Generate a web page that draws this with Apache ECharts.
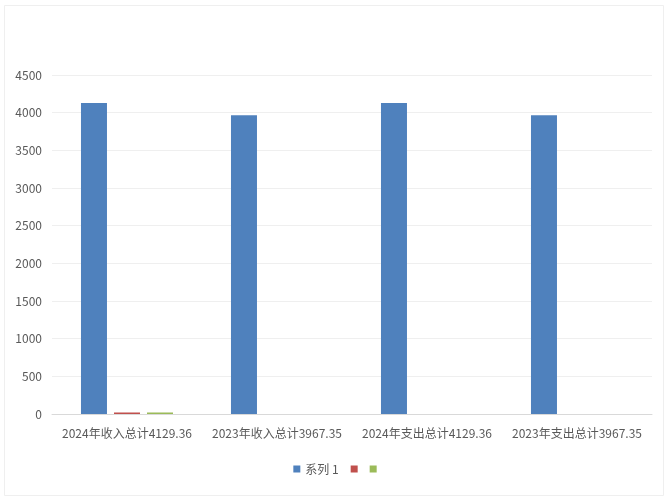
<!DOCTYPE html>
<html><head><meta charset="utf-8">
<script src="https://cdn.jsdelivr.net/npm/echarts@6/dist/echarts.min.js"></script>
<style>html,body{margin:0;padding:0;background:#fff}#c{width:670px;height:502px}</style>
</head><body><div id="c"></div>
<script>
const categories = ['2024年收入总计4129.36','2023年收入总计3967.35','2024年支出总计4129.36','2023年支出总计3967.35'];
const series1 = [4129.36, 3967.35, 4129.36, 3967.35];
const series2 = [20, 0, 0, 0];
const series3 = [20, 0, 0, 0];
const yTicks = {min: 0, max: 4500, interval: 500};
const font = '"Noto Sans CJK SC", "Noto Sans", sans-serif';
const chart = echarts.init(document.getElementById('c'));
chart.setOption({
  animation: false,
  textStyle: {fontFamily: font},
  graphic: [{type: 'rect', shape: {x: 4.5, y: 5.5, width: 659, height: 490}, style: {fill: 'none', stroke: '#efefef', lineWidth: 1}, silent: true}],
  grid: {left: 52, right: 18, top: 75, bottom: 88},
  legend: {
    bottom: 22, left: 'center', icon: 'rect', itemWidth: 7, itemHeight: 7, itemGap: 12,
    textStyle: {color: '#595959', fontSize: 12, fontFamily: font},
    formatter: n => n === '系列1' ? '系列 1' : '',
    data: ['系列1', '系列2', '系列3']
  },
  xAxis: {
    type: 'category', data: categories,
    axisLine: {lineStyle: {color: '#d9d9d9'}}, axisTick: {show: false},
    axisLabel: {color: '#595959', fontSize: 12, interval: 0, margin: 13}
  },
  yAxis: {
    type: 'value', min: yTicks.min, max: yTicks.max, interval: yTicks.interval,
    axisLine: {show: false}, axisTick: {show: false},
    axisLabel: {color: '#595959', fontSize: 12, margin: 10, formatter: v => String(v)},
    splitLine: {lineStyle: {color: '#efefef'}}
  },
  series: [
    {name: '系列1', type: 'bar', data: series1, itemStyle: {color: '#4f81bd'}, barWidth: 26, barGap: '27%', barCategoryGap: '38%'},
    {name: '系列2', type: 'bar', data: series2, itemStyle: {color: '#c0504d'}, barWidth: 26},
    {name: '系列3', type: 'bar', data: series3, itemStyle: {color: '#9bbb59'}, barWidth: 26}
  ]
});
</script></body></html>
